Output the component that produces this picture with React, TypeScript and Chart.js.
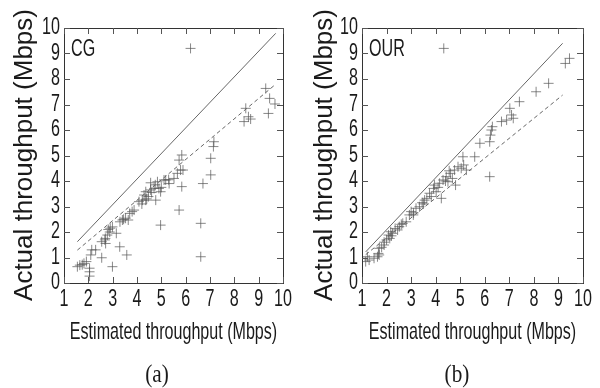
import React, { useEffect, useRef } from "react";
import { Chart, registerables } from "chart.js";

Chart.register(...registerables);

// ---- data ----
const xTicks = [1, 2, 3, 4, 5, 6, 7, 8, 9, 10];
const yTicks = [0, 1, 2, 3, 4, 5, 6, 7, 8, 9, 10];

// (a) CG
const cgEst = [1.55, 1.82, 1.92, 1.75, 2.05, 2.05, 2.05, 2.1, 2.14, 2.3, 2.55, 2.55, 2.68, 2.78, 2.82, 2.88, 2.71, 2.99, 3.15, 2.99, 3.29, 3.58, 3.4, 3.53, 3.64, 3.7, 3.88, 4.08, 4.22, 4.29, 4.36, 4.36, 4.47, 4.56, 4.56, 4.7, 4.77, 4.84, 4.9, 4.97, 4.97, 5.11, 5.18, 5.32, 5.52, 5.66, 5.73, 5.73, 5.79, 5.84, 5.84, 5.89, 6.2, 6.62, 6.62, 6.71, 7.03, 7.03, 7.14, 7.16, 8.47, 8.4, 8.58, 8.67, 9.29, 9.45, 9.4, 9.67, 4.4, 4.6, 3.3, 3.45, 2.9, 4.75, 5.3, 5.0, 4.2, 3.8, 2.7, 1.65];
const cgAct = [0.64, 0.77, 0.84, 0.72, 0.58, 0.44, 0.27, 1.1, 1.3, 1.3, 0.99, 1.62, 1.69, 1.88, 2.1, 2.0, 1.55, 2.2, 1.95, 0.64, 1.42, 1.1, 2.47, 2.54, 2.47, 2.73, 2.86, 3.19, 3.25, 3.45, 3.25, 3.58, 3.39, 3.65, 3.93, 3.71, 3.25, 3.97, 3.71, 3.58, 2.27, 4.04, 4.04, 3.9, 4.1, 4.3, 2.86, 4.82, 4.43, 5.02, 3.78, 4.43, 9.2, 2.34, 1.03, 3.9, 4.89, 4.24, 5.35, 5.54, 6.85, 6.33, 6.52, 6.43, 7.63, 7.24, 6.65, 7.02, 3.3, 3.55, 2.4, 2.5, 2.15, 3.85, 4.05, 3.75, 3.1, 2.8, 1.75, 0.7];
const cgSolidX = [1.55, 9.7];
const cgSolidY = [1.62, 9.79];
const cgDashX = [1.55, 9.63];
const cgDashY = [1.29, 7.74];

// (b) OUR
const ourEst = [1.01, 1.15, 1.29, 1.22, 1.49, 1.63, 1.67, 1.7, 1.7, 1.9, 2.0, 2.08, 2.13, 2.17, 2.24, 2.35, 2.45, 2.52, 2.66, 2.8, 2.93, 3.0, 3.09, 3.2, 3.34, 3.45, 3.55, 3.64, 3.75, 3.82, 3.91, 3.95, 4.02, 4.16, 4.23, 4.3, 4.33, 4.43, 4.5, 4.6, 4.68, 4.77, 4.81, 4.91, 5.04, 5.11, 5.14, 5.25, 5.59, 5.8, 6.2, 6.23, 6.27, 6.31, 6.2, 6.68, 6.89, 7.02, 7.09, 7.16, 7.41, 8.09, 8.6, 9.28, 9.45, 2.2, 2.6, 3.1, 3.5, 4.1, 4.4, 4.55, 1.8, 1.9];
const ourAct = [0.97, 0.84, 0.9, 1.03, 0.97, 1.03, 1.16, 1.36, 1.1, 1.49, 1.69, 1.88, 1.75, 2.01, 1.95, 2.14, 2.08, 2.21, 2.34, 2.4, 2.67, 2.8, 2.67, 2.93, 2.99, 3.15, 3.25, 3.32, 3.52, 3.39, 3.71, 3.84, 3.58, 3.91, 3.32, 4.04, 9.2, 4.17, 3.97, 4.3, 4.1, 4.43, 3.84, 4.56, 4.5, 4.95, 4.63, 4.43, 4.95, 5.48, 5.54, 5.8, 6.0, 6.13, 4.17, 6.33, 6.39, 6.85, 6.59, 6.46, 7.11, 7.5, 7.83, 8.61, 8.81, 1.85, 2.3, 2.75, 3.1, 3.75, 4.0, 4.4, 1.4, 1.6];
const ourSolidX = [1.15, 9.17];
const ourSolidY = [1.22, 9.4];
const ourDashX = [1.15, 9.17];
const ourDashY = [1.11, 7.37];

const xTitle = "Estimated throughput (Mbps)";
const yTitle = "Actual throughput (Mbps)";

const pts = (xs: number[], ys: number[]) => xs.map((x, i) => ({ x, y: ys[i] }));

type PanelCfg = {
  est: number[];
  act: number[];
  solidX: number[];
  solidY: number[];
  dashX: number[];
  dashY: number[];
  label: string;
  caption: string;
  padLeft: number;
  captionX: number;
};

const SANS = '"Liberation Sans", Arial, Helvetica, sans-serif';
const SERIF = '"Liberation Serif", "Times New Roman", serif';

function condensedText(
  ctx: CanvasRenderingContext2D,
  text: string,
  x: number,
  y: number,
  font: string,
  sx: number,
  align: CanvasTextAlign
) {
  ctx.save();
  ctx.translate(x, y);
  ctx.scale(sx, 1);
  ctx.font = font;
  ctx.textAlign = align;
  ctx.textBaseline = "middle";
  ctx.fillText(text, 0, 0);
  ctx.restore();
}

function makeDecor(cfg: PanelCfg) {
  return {
    id: "decor" + cfg.label,
    afterDraw(chart: any) {
      const ctx: CanvasRenderingContext2D = chart.ctx;
      const a = chart.chartArea;
      const xs = chart.scales.x;
      const ys = chart.scales.y;
      ctx.save();
      // frame
      ctx.strokeStyle = "#333";
      ctx.lineWidth = 1;
      ctx.strokeRect(Math.round(a.left) + 0.5, Math.round(a.top) + 0.5, Math.round(a.right - a.left), Math.round(a.bottom - a.top));
      // inner ticks
      ctx.strokeStyle = "#555";
      const tl = 6;
      ctx.beginPath();
      xTicks.forEach((v) => {
        const px = Math.round(xs.getPixelForValue(v)) + 0.5;
        ctx.moveTo(px, a.bottom);
        ctx.lineTo(px, a.bottom - tl);
        ctx.moveTo(px, a.top);
        ctx.lineTo(px, a.top + tl);
      });
      yTicks.forEach((v) => {
        const py = Math.round(ys.getPixelForValue(v)) + 0.5;
        ctx.moveTo(a.left, py);
        ctx.lineTo(a.left + tl, py);
        ctx.moveTo(a.right, py);
        ctx.lineTo(a.right - tl, py);
      });
      ctx.stroke();
      // tick labels
      ctx.fillStyle = "#1a1a1a";
      const tickFont = `23px ${SANS}`;
      xTicks.forEach((v) => {
        condensedText(ctx, String(v), xs.getPixelForValue(v), a.bottom + 17, tickFont, 0.7, "center");
      });
      yTicks.forEach((v) => {
        condensedText(ctx, String(v), a.left - 4, ys.getPixelForValue(v), tickFont, 0.7, "right");
      });
      // x title
      condensedText(ctx, xTitle, (a.left + a.right) / 2, a.bottom + 49, `24px ${SANS}`, 0.67, "center");
      // y title (rotated)
      ctx.save();
      ctx.translate(25, 155);
      ctx.rotate(-Math.PI / 2);
      ctx.font = `26px ${SANS}`;
      ctx.textAlign = "center";
      ctx.textBaseline = "middle";
      ctx.fillText(yTitle, 0, 0);
      ctx.restore();
      // panel label
      condensedText(ctx, cfg.label, a.left + 7, 50, `23px ${SANS}`, 0.7, "left");
      // caption
      condensedText(ctx, cfg.caption, cfg.captionX, 375, `25px ${SERIF}`, 0.85, "center");
      ctx.restore();
    },
  };
}

function Panel({ cfg, left }: { cfg: PanelCfg; left: number }) {
  const ref = useRef<HTMLCanvasElement | null>(null);
  useEffect(() => {
    if (!ref.current) return;
    const chart = new Chart(ref.current, {
      type: "scatter",
      data: {
        datasets: [
          {
            data: pts(cfg.solidX, cfg.solidY),
            showLine: true,
            borderColor: "#666",
            borderWidth: 1,
            pointRadius: 0,
          },
          {
            data: pts(cfg.dashX, cfg.dashY),
            showLine: true,
            borderColor: "#666",
            borderWidth: 1,
            borderDash: [4, 3],
            pointRadius: 0,
          },
          {
            data: pts(cfg.est, cfg.act),
            pointStyle: "cross",
            pointRadius: 5,
            pointBorderWidth: 1,
            borderColor: "rgba(85,85,85,0.7)",
            backgroundColor: "rgba(85,85,85,0.7)",
          },
        ],
      },
      options: {
        animation: false,
        responsive: false,
        maintainAspectRatio: false,
        layout: { padding: { left: cfg.padLeft, right: 17, top: 28, bottom: 105 } },
        plugins: { legend: { display: false }, tooltip: { enabled: false } },
        scales: {
          x: { type: "linear", min: 1, max: 10, display: false },
          y: { type: "linear", min: 0, max: 10, display: false },
        },
      },
      plugins: [makeDecor(cfg)],
    });
    return () => chart.destroy();
  }, [cfg]);
  return (
    <canvas
      ref={ref}
      width={300}
      height={388}
      style={{ position: "absolute", left, top: 0, width: 300, height: 388 }}
    />
  );
}

const cgCfg: PanelCfg = {
  est: cgEst,
  act: cgAct,
  solidX: cgSolidX,
  solidY: cgSolidY,
  dashX: cgDashX,
  dashY: cgDashY,
  label: "CG",
  caption: "(a)",
  padLeft: 64,
  captionX: 157,
};

const ourCfg: PanelCfg = {
  est: ourEst,
  act: ourAct,
  solidX: ourSolidX,
  solidY: ourSolidY,
  dashX: ourDashX,
  dashY: ourDashY,
  label: "OUR",
  caption: "(b)",
  padLeft: 62,
  captionX: 157,
};

export default function App() {
  return (
    <div style={{ position: "absolute", left: 0, top: 0, width: 600, height: 388, background: "#fff", overflow: "hidden" }}>
      <Panel cfg={cgCfg} left={0} />
      <Panel cfg={ourCfg} left={300} />
    </div>
  );
}
